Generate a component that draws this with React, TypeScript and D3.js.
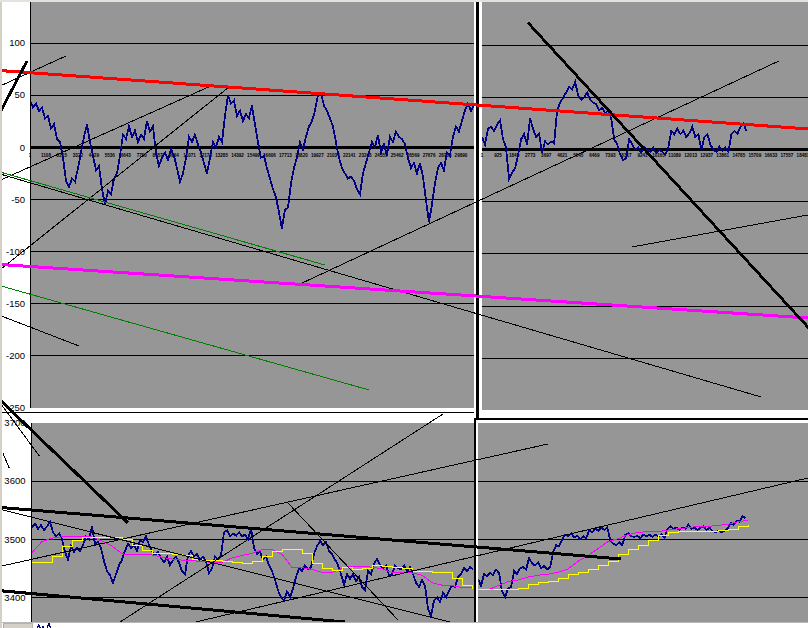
import * as d3 from "d3";

const W = 808;
const H = 628;
const FONT = "'Liberation Sans', Arial, Helvetica, sans-serif";
const PLOT = "#969696";
const NAVY = "#000080";

// oscillator, left sheet (one value every 208 bars)
const oscLeft = [
  45, 38, 42, 35, 38, 28, 30, 18, 22, 8,
  5, -10, -32, -38, -30, -33, -20, -5, 10, 22,
  5, -8, -22, -18, -40, -55, -42, -45, -30, -25,
  -8, 12, 8, 20, 10, 16, 5, 12, 8, 25,
  15, 20, -5, -18, -10, -5, -12, -2, -8, -20,
  -33, -25, -10, 10, 5, 12, 3, -5, -15, -25,
  -10, 5, 0, 10, 5, 30, 50, 42, 45, 30,
  35, 25, 32, 28, 40, 22, 5, -10, -8, -20,
  -30, -40, -48, -62, -78, -60, -58, -35, -20, -10,
  5, -2, 10, 20, 25, 35, 50, 52, 40, 35,
  28, 20, 5, -10, -20, -25, -30, -28, -32, -40,
  -45, -25, -15, -5, 5, 0, 12, -5, 3, -8,
  10, 5, 15, 10, 8, 3, -10, -20, -15, -25,
  -15, -28, -50, -72, -55, -35, -20, -15, -22, -5,
  -8, 10, 20, 15, 25, 35, 42, 35, 40,
];
// oscillator, right sheet (one value every 173 bars)
const oscRight = [
  12, 5, 20, 22, 18, 24, 28, 10, 2, -28,
  -22, -18, -5, 10, 15, 5, 30, 20, 12, 15,
  -3, 8, 5, 8, 6, 38, 45, 50, 55, 60,
  58, 65, 52, 48, 50, 55, 48, 45, 44, 38,
  40, 35, 38, 30, 10, 5, -5, -10, -8, 10,
  5, 0, 2, -3, 3, 0, -2, 2, -3, 0,
  -2, -5, 2, 18, 15, 20, 15, 18, 12, 16,
  22, 12, 15, 0, 12, 15, 5, 0, -2, 3,
  -1, 2, -2, 15, 18, 15, 22, 25, 18,
];
const oscLeftTicks = [
  1, 1108, 2215, 3322, 4429, 5536, 6643, 7750, 8857, 9964, 11071, 12178, 13285, 14392,
  15499, 16606, 17713, 18820, 19927, 21034, 22141, 23248, 24355, 25462, 26569, 27676,
  28783, 29890,
];
const oscRightTicks = [
  1, 925, 1849, 2773, 3697, 4621, 5545, 6469, 7393, 8317, 9241, 10165, 11089, 12013,
  12937, 13861, 14785, 15709, 16633, 17557, 18481,
];
const oscYTicks = [100, 50, 0, -50, -100, -150, -200, -250];
const oscGrid = [100, 50, -50, -100, -150, -200];

// price, left sheet (one value every 209 bars, averages every 697 bars)
const priceLeft = [
  3520, 3527, 3518, 3524, 3516, 3522, 3530, 3512, 3505, 3510,
  3500, 3478, 3465, 3488, 3478, 3485, 3480, 3490, 3505, 3500,
  3522, 3492, 3496, 3485, 3462, 3445, 3438, 3425, 3440, 3455,
  3465, 3480, 3492, 3485, 3490, 3480, 3498, 3495, 3505, 3490,
  3480, 3472, 3478, 3468, 3460, 3470, 3455, 3465, 3470, 3460,
  3445, 3440, 3472, 3480, 3470, 3475, 3465, 3470, 3462, 3442,
  3450, 3470, 3465, 3472, 3512, 3515, 3505, 3510, 3506, 3512,
  3505, 3508, 3500, 3518, 3485, 3475, 3478, 3465, 3470, 3455,
  3445, 3430, 3412, 3400, 3395, 3410, 3400, 3415, 3435, 3450,
  3445, 3455, 3448, 3452, 3475, 3488, 3497, 3490, 3495, 3480,
  3475, 3465, 3455, 3440, 3422, 3440, 3432, 3440, 3428, 3435,
  3418, 3413, 3445, 3440, 3458, 3466, 3455, 3450, 3455, 3438,
  3440, 3455, 3450, 3448, 3455, 3445, 3452, 3440, 3425, 3418,
  3430, 3420, 3380, 3368, 3395, 3400, 3392, 3408, 3400, 3412,
  3420, 3418, 3435, 3440, 3450, 3445, 3452, 3448,
];
const fastLeft = [
  3477, 3496, 3502, 3504, 3504, 3504, 3504, 3497, 3488, 3475,
  3473, 3473, 3473, 3469, 3466, 3464, 3463, 3462, 3460, 3460,
  3468, 3472, 3476, 3482, 3482, 3474, 3451, 3451, 3448, 3443,
  3443, 3450, 3454, 3453, 3452, 3449, 3443, 3442, 3442, 3438,
  3425, 3421, 3420, 3417, 3417,
];
const slowLeft = [
  3460, 3460, 3470, 3487, 3498, 3503, 3503, 3503, 3503, 3499,
  3490, 3480, 3476, 3476, 3474, 3472, 3466, 3464, 3464, 3461,
  3460, 3459, 3462, 3470, 3479, 3482, 3482, 3476, 3458, 3450,
  3447, 3451, 3448, 3450, 3455, 3453, 3452, 3450, 3445, 3444,
  3443, 3443, 3432, 3420, 3415,
];
// price, right sheet (one value every 171 bars, averages every 569 bars)
const priceRight = [
  3432, 3420, 3440, 3436, 3442, 3438, 3448, 3442, 3410, 3400,
  3415, 3418, 3445, 3440, 3450, 3452, 3448, 3468, 3458, 3455,
  3460, 3450, 3454, 3448, 3452, 3478, 3490, 3488, 3500, 3508,
  3505, 3510, 3503, 3506, 3500, 3505, 3502, 3515, 3512, 3518,
  3515, 3520, 3516, 3520, 3498, 3492, 3490, 3495, 3490, 3508,
  3510, 3505, 3504, 3506, 3502, 3508, 3505, 3508, 3504, 3508,
  3505, 3508, 3502, 3518, 3522, 3518, 3520, 3516, 3520, 3518,
  3525, 3518, 3520, 3516, 3520, 3522, 3516, 3520, 3514, 3512,
  3515, 3512, 3514, 3518, 3528, 3525, 3532, 3530, 3540, 3536,
];
const fastRight = [
  3414, 3413, 3420, 3427, 3430, 3435, 3438, 3440, 3443, 3449,
  3462, 3472, 3484, 3496, 3501, 3508, 3512, 3513, 3513, 3516,
  3518, 3520, 3522, 3522, 3524, 3526, 3530, 3533,
];
const slowRight = [
  3413, 3413, 3413, 3413, 3415, 3422, 3426, 3428, 3432, 3440,
  3443, 3448, 3455, 3462, 3473, 3482, 3490, 3498, 3506, 3511,
  3513, 3513, 3513, 3513, 3515, 3517, 3522, 3524,
];
const priceYTicks = [3700, 3600, 3500, 3400];
const priceGrid = [3600, 3500, 3400];

// hand-drawn trend lines, in the left panels' units: [bar1, value1, bar2, value2]
const oscRedLines = [[-2079, 73.6, 53950, 17.6]];
const oscMagentaLines = [[-2079, -112.4, 53950, -163.7]];
const oscGreenLines = [
  [-2079, -23.7, 20457, -112.9],
  [-2079, -132.7, 23508, -232.7],
];
const oscThickLines = [
  [-2079, 33.2, -207, 82.8],
  [34534, 119.5, 55475, -195.4],
];
const oscThinLines = [
  [-2079, -25.6, 50691, -239.4],
  [-2079, -161.3, 3399, -190.5],
  [-2079, 58.7, 2497, 87.6],
  [-2079, -31.7, 12691, 59.7],
  [-2079, -117.5, 13800, 57.8],
  [18724, -131.1, 51939, 82.8],
  [41746, -95.6, 53950, -64.9],
];
const priceThickLines = [
  [-2158, 3739.6, 6758, 3528.0],
  [-2158, 3554.8, 41099, 3466.0],
  [-2158, 3411.5, 21874, 3357.6],
];
const priceThinLines = [
  [-2158, 3735.1, 579, 3643.2],
  [-1949, 3647.9, -1511, 3622.1],
  [-2158, 3551.5, 29536, 3355.4],
  [-2158, 3453.3, 36014, 3663.9],
  [6201, 3357.6, 28700, 3715.5],
  [17903, 3562.4, 25565, 3361.1],
  [10589, 3352.5, 54125, 3605.4],
];

const TL_STEP = 208;
const TR_STEP = 173;
const BL_START = 71;
const BL_STEP = 209;
const BL_MA_STEP = 697;
const BR_STEP = 171;
const BR_MA_STEP = 569;

const tlX = d3.scaleLinear().domain([1, 30860]).range([30, 475]);
const tlY = d3.scaleLinear().domain([-250, 150]).range([408, -9.14]);
const trX = d3.scaleLinear().domain([1, 18769]).range([482, 808]);
const trY = d3.scaleLinear().domain([-250, 150]).range([410.4, -6.7]);
const blX = d3.scaleLinear().domain([1, 30860]).range([31, 474]);
const pY = d3.scaleLinear().domain([3300, 3700]).range([655.5, 423]);
const brX = d3.scaleLinear().domain([1, 18769]).range([478, 808]);
const miniX = d3.scaleLinear().domain([1, 30860]).range([36, 345]);
const miniY = d3.scaleLinear().domain([3400, 3530]).range([700, 623]);

function seriesPath(
  values: number[],
  x: d3.ScaleLinear<number, number>,
  y: d3.ScaleLinear<number, number>,
  start: number,
  step: number,
  curve: d3.CurveFactory = d3.curveLinear
) {
  return (
    d3
      .line<number>()
      .x((_, i) => x(start + i * step))
      .y((d) => y(d))
      .curve(curve)(values) ?? ""
  );
}

function Segs({
  lines,
  x,
  y,
  stroke,
  width,
}: {
  lines: number[][];
  x: d3.ScaleLinear<number, number>;
  y: d3.ScaleLinear<number, number>;
  stroke: string;
  width: number;
}) {
  return (
    <g>
      {lines.map((l, i) => (
        <line
          key={i}
          x1={x(l[0])}
          y1={y(l[1])}
          x2={x(l[2])}
          y2={y(l[3])}
          stroke={stroke}
          strokeWidth={width}
        />
      ))}
    </g>
  );
}

export default function App() {
  const axisText = {
    fontFamily: FONT,
    fontSize: 9.5,
    fill: "#000",
    textAnchor: "end" as const,
  };
  const tinyText = {
    fontFamily: FONT,
    fontSize: 4.6,
    fontWeight: 700,
    fill: "#000",
    textAnchor: "middle" as const,
  };

  return (
    <div style={{ position: "absolute", left: 0, top: 0 }}>
      <svg width={W} height={H} style={{ display: "block" }} shapeRendering="crispEdges">
        <defs>
          <clipPath id="cTL">
            <rect x={30} y={0} width={444.3} height={408} />
          </clipPath>
          <clipPath id="cTR">
            <rect x={482} y={0} width={326} height={409.5} />
          </clipPath>
          <clipPath id="cBL">
            <rect x={31} y={423} width={443} height={199} />
          </clipPath>
          <clipPath id="cBR">
            <rect x={478.3} y={423} width={330} height={199} />
          </clipPath>
          <clipPath id="cMini">
            <rect x={36} y={623} width={310} height={5} />
          </clipPath>
        </defs>
        <rect width={W} height={H} fill="#fff" />

        {/* top-left sheet */}
        <rect x={30} y={0} width={444.3} height={408} fill={PLOT} />
        {oscGrid.map((g) => (
          <line key={g} x1={30} x2={474.3} y1={tlY(g)} y2={tlY(g)} stroke="#000" strokeWidth={1} />
        ))}
        {oscLeftTicks.map((t) => (
          <text key={t} x={tlX(t)} y={157} style={tinyText}>
            {t}
          </text>
        ))}
        <line x1={30} x2={474.3} y1={tlY(0)} y2={tlY(0)} stroke="#000" strokeWidth={2.6} />
        <g clipPath="url(#cTL)">
          <path d={seriesPath(oscLeft, tlX, tlY, 1, TL_STEP)} fill="none" stroke={NAVY} strokeWidth={1.8} />
        </g>
        <line x1={30} x2={30} y1={0} y2={408} stroke="#000" strokeWidth={1} />
        {oscYTicks.map((t) => (
          <text key={t} x={25} y={tlY(t)} dy="0.35em" style={axisText}>
            {t}
          </text>
        ))}

        {/* top-right sheet */}
        <rect x={476} y={0} width={W - 476} height={419} fill="#fff" />
        <line x1={477.4} x2={477.4} y1={0} y2={420} stroke="#000" strokeWidth={2.4} />
        <rect x={482} y={0} width={326} height={409.5} fill={PLOT} />
        {oscGrid.map((g) => (
          <line key={g} x1={482} x2={W} y1={trY(g)} y2={trY(g)} stroke="#000" strokeWidth={1} />
        ))}
        {oscRightTicks.map((t) => (
          <text key={t} x={trX(t)} y={157} style={tinyText}>
            {t}
          </text>
        ))}
        <line x1={482} x2={W} y1={trY(0)} y2={trY(0)} stroke="#000" strokeWidth={2.6} />
        <g clipPath="url(#cTR)">
          <path d={seriesPath(oscRight, trX, trY, 1, TR_STEP)} fill="none" stroke={NAVY} strokeWidth={1.8} />
        </g>

        {/* bottom-left sheet */}
        <rect x={0} y={411.5} width={474} height={211} fill="#fff" />
        <line x1={0} x2={474} y1={412.2} y2={412.2} stroke="#000" strokeWidth={1.3} />
        <rect x={31} y={423} width={443} height={199} fill={PLOT} />
        {priceGrid.map((g) => (
          <line key={g} x1={31} x2={474} y1={pY(g)} y2={pY(g)} stroke="#000" strokeWidth={1} />
        ))}
        <g clipPath="url(#cBL)">
          <path d={seriesPath(priceLeft, blX, pY, BL_START, BL_STEP)} fill="none" stroke={NAVY} strokeWidth={1.8} />
          <path d={seriesPath(fastLeft, blX, pY, BL_START, BL_MA_STEP)} fill="none" stroke="#ff00ff" strokeWidth={1} />
          <path
            d={seriesPath(slowLeft, blX, pY, BL_START, BL_MA_STEP, d3.curveStepAfter)}
            fill="none"
            stroke="#ffff00"
            strokeWidth={1}
          />
        </g>
        <line x1={31} x2={31} y1={423} y2={622} stroke="#000" strokeWidth={1} />
        {priceYTicks.map((t) => (
          <text key={t} x={25.5} y={pY(t)} dy="0.35em" style={axisText}>
            {t}
          </text>
        ))}

        {/* bottom-right sheet */}
        <rect x={474} y={418.5} width={W - 474} height={204} fill="#fff" />
        <line x1={474} x2={W} y1={419.2} y2={419.2} stroke="#000" strokeWidth={1.5} />
        <line x1={474.8} x2={474.8} y1={418.5} y2={622} stroke="#000" strokeWidth={1.5} />
        <rect x={478.3} y={423} width={330} height={199} fill={PLOT} />
        {priceGrid.map((g) => (
          <line key={g} x1={478.3} x2={W} y1={pY(g)} y2={pY(g)} stroke="#000" strokeWidth={1} />
        ))}
        <g clipPath="url(#cBR)">
          <path d={seriesPath(priceRight, brX, pY, 1, BR_STEP)} fill="none" stroke={NAVY} strokeWidth={1.8} />
          <path d={seriesPath(fastRight, brX, pY, 1, BR_MA_STEP)} fill="none" stroke="#ff00ff" strokeWidth={1} />
          <path
            d={seriesPath(slowRight, brX, pY, 1, BR_MA_STEP, d3.curveStepAfter)}
            fill="none"
            stroke="#ffff00"
            strokeWidth={1}
          />
        </g>

        {/* drawn trend lines */}
        <Segs lines={oscThinLines} x={tlX} y={tlY} stroke="#000" width={1} />
        <Segs lines={oscGreenLines} x={tlX} y={tlY} stroke="#008000" width={1} />
        <Segs lines={oscMagentaLines} x={tlX} y={tlY} stroke="#ff00ff" width={3} />
        <Segs lines={oscRedLines} x={tlX} y={tlY} stroke="#ff0000" width={3} />
        <Segs lines={oscThickLines} x={tlX} y={tlY} stroke="#000" width={2.8} />
        <Segs lines={priceThinLines} x={blX} y={pY} stroke="#000" width={1} />
        <Segs lines={priceThickLines} x={blX} y={pY} stroke="#000" width={3} />

        {/* next sheet peeking in at the bottom */}
        <rect x={0} y={622} width={W} height={6} fill="#fff" />
        <line x1={0} x2={W} y1={622.5} y2={622.5} stroke="#b8b8b8" strokeWidth={1} />
        <rect x={3} y={623.5} width={29} height={5} fill="#d4d0c8" stroke="#a0a0a0" strokeWidth={0.8} />
        <g clipPath="url(#cMini)">
          <path d={seriesPath(priceLeft, miniX, miniY, BL_START, BL_STEP)} fill="none" stroke={NAVY} strokeWidth={1.2} />
        </g>

        {/* window frame */}
        <rect x={0} y={0} width={2} height={H} fill="#d4d0c8" />
        <rect x={0} y={0} width={W} height={2} fill="#e4e2dc" />
      </svg>
    </div>
  );
}
